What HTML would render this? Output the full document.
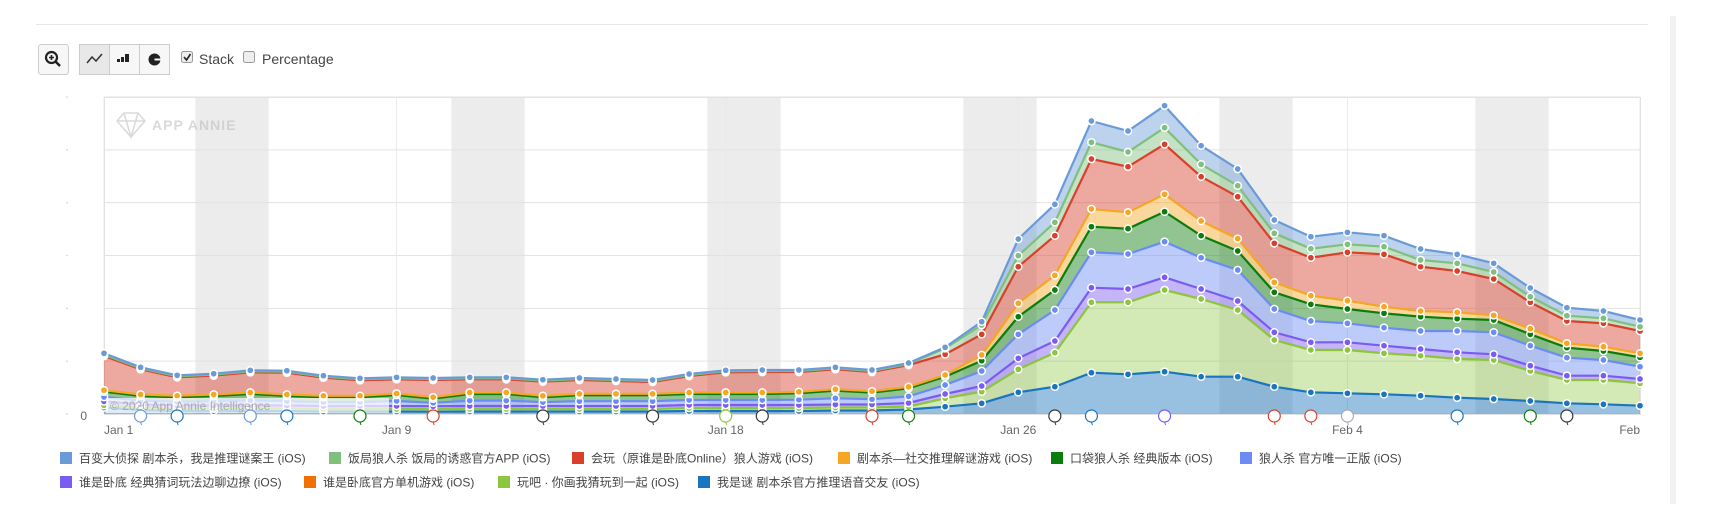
<!DOCTYPE html>
<html><head><meta charset="utf-8">
<style>
body{margin:0;background:#fff;width:1718px;height:528px;overflow:hidden;font-family:"Liberation Sans","Noto Sans CJK SC",sans-serif;}
svg{position:absolute;left:0;top:0}
</style></head>
<body>
<svg id="chart" width="1718" height="528"></svg>
<script>
const categories = ["Jan 1","Jan 2","Jan 3","Jan 4","Jan 5","Jan 6","Jan 7","Jan 8","Jan 9","Jan 10","Jan 11","Jan 12","Jan 13","Jan 14","Jan 15","Jan 16","Jan 17","Jan 18","Jan 19","Jan 20","Jan 21","Jan 22","Jan 23","Jan 24","Jan 25","Jan 26","Jan 27","Jan 28","Jan 29","Jan 30","Jan 31","Feb 1","Feb 2","Feb 3","Feb 4","Feb 5","Feb 6","Feb 7","Feb 8","Feb 9","Feb 10","Feb 11","Feb 12"];
const tickLabels = ["Jan 1","Jan 9","Jan 18","Jan 26","Feb 4","Feb"];
const tickIndex = [0,8,17,25,34,42];
const seriesNames = ["百变大侦探 剧本杀，我是推理谜案王 (iOS)","饭局狼人杀 饭局的诱惑官方APP (iOS)","会玩（原谁是卧底Online）狼人游戏 (iOS)","剧本杀—社交推理解谜游戏 (iOS)","口袋狼人杀 经典版本 (iOS)","狼人杀 官方唯一正版 (iOS)","谁是卧底 经典猜词玩法边聊边撩 (iOS)","谁是卧底官方单机游戏 (iOS)","玩吧 · 你画我猜玩到一起 (iOS)","我是谜 剧本杀官方推理语音交友 (iOS)"];
const baibian = [1.4,1,1,1,1,1,1,1,1,1,1,1,1,1,1,1,1,1,1,1,1,1,1,1,3.3,16.7,18,21.3,21,22,18.6,16.7,13.3,12,12,11,11,9,8.7,8.7,8,7.3,6.7];
const fanju = [1.3,1,1,1,1,1,1,1,1,1,1,1,1,1,1,1,1,1,1,1,1,1,1,6,9.3,11,13.4,16.7,14.7,16.6,12.4,11,10,9,8,7.6,6.7,7.7,7,5.6,5.3,5,4.3];
const huiwan = [34.2,25.2,18.5,18.8,20.2,21.8,18.1,15.5,14.2,17.2,13.2,13.2,14.1,13.8,12.8,11.8,16.5,20.2,20.5,19.8,19.9,19.2,21.8,20.7,20.7,36.6,39.6,50,45.6,50,44.3,42,39,38,48.4,52.4,44.3,41.3,36.3,26.4,22.3,23.4,22.3];
const juben = [1.5,1.5,1.5,1.5,1.5,1.5,1.5,1.5,1.5,1.5,1.5,1.5,1.5,1.5,1.5,1.5,1.5,1.5,1.5,1.5,1.5,1.5,1.5,1.7,5.7,13.4,14.7,17.7,16.4,17.4,14.7,12.3,10,8.6,8.3,6.6,5.7,6.4,4.7,5.6,4.4,4.3,4];
const koudai = [5.3,4.5,4.5,5.2,6.3,5.2,4.8,4.8,6,4.1,6.6,6.6,4.8,5.9,5.9,5.9,6,6,6,6.4,7.6,6.5,8.1,8.3,10.3,17.6,20,25.6,25.3,30,22,19,16.7,16.7,14.3,14.4,14.3,12.3,12.3,11.4,10,9,9.4];
const langren = [4.4,4,3.7,4.3,5.2,4.3,3.9,3.9,5,3.4,5.4,5.4,3.9,4.8,4.8,4.8,5,5,5,5.3,6.2,5.3,6.6,9,15,24,31,35.4,35,35.6,31.3,31,23.3,21.3,19,18,18,21.3,22,20,18,15.7,12.3];
const woudiClassic = [3.5,2.7,2.7,2.7,2.7,2.7,2.7,2.7,2.7,2.7,2.7,2.7,2.7,2.7,2.7,2.7,2.7,2.7,2.7,2.7,2.7,2.7,3.2,3.7,5.1,10.4,11.1,14,12.7,12.1,9.4,8.4,7.1,7.1,7.1,7,6.1,6.1,5.1,4.7,3.7,3.7,3.7];
const woudiOfficial = [0.3,0.3,0.3,0.3,0.3,0.3,0.3,0.3,0.3,0.3,0.3,0.3,0.3,0.3,0.3,0.3,0.3,0.3,0.3,0.3,0.3,0.3,0.3,0.6,0.6,0.6,0.6,0.6,0.6,0.6,0.6,0.6,0.6,0.6,0.6,0.6,0.6,0.6,0.6,0.6,0.6,0.6,0.6];
const wanba = [2.3,2.5,2.5,2.5,2.5,2.5,2.5,2.5,2.5,2.5,2.5,2.5,2.5,2.5,2.5,2.5,3,3,3,3,3,3,3,8.4,11.6,23,34,70.4,72,81.7,77.7,66.7,46.7,42.3,43.3,41,40,38.7,39,30,23.3,24.3,22.4];
const woshimi = [6.5,4,3,3,3,3,2.5,2.5,2.5,2.3,2.5,2.5,2.5,2.5,2.5,2.5,3,3,3,3,3.5,3.5,4.5,7.3,10.7,21.7,27.3,41.3,39.7,42.3,37.3,37.3,27.3,21.7,20.7,19.7,18.3,16.3,15,13,10.7,9.7,8.3];
const annotationDays = [1,2,4,5,7,9,12,15,17,18,21,22,26,27,29,32,33,34,37,39,40];
const annotationColors = ["#6a9bd8","#1a75bc","#6a9bd8","#1a75bc","#0a7d0a","#d8402b","#333","#333","#8cc63f","#333","#d8402b","#0a7d0a","#333","#1a75bc","#7b5cf0","#d8402b","#d8402b","#aab","#1a75bc","#0a7d0a","#333"];
const weekendStarts = [3,10,17,24,31,38];

const colors = ["#6a9bd8","#7fbf7f","#d8402b","#f5a623","#0a7d0a","#6b8cf5","#7b5cf0","#f07000","#8cc63f","#1a75bc"];
const stackBottomUp = [woshimi,wanba,woudiOfficial,woudiClassic,langren,koudai,juben,huiwan,fanju,baibian];
const colorBottomUp = colors.slice().reverse();
const namesBottomUp = ["woshimi","wanba","woudi-official","woudi-classic","langren","koudai","juben","huiwan","fanju","baibian"];

const NS="http://www.w3.org/2000/svg";
const svg=document.getElementById('chart');
const PL=104,PR=1640,PT=97,PB=414,YMAX=317;
const N=categories.length;
function x(i){return PL+i*(PR-PL)/(N-1);}
function y(v){return PB-(v/YMAX)*(PB-PT);}
function mk(tag,attrs,parent){const e=document.createElementNS(NS,tag);for(const k in attrs)e.setAttribute(k,attrs[k]);(parent||svg).appendChild(e);return e;}

let e;
e=mk('line',{x1:36,y1:24.5,x2:1648,y2:24.5,stroke:'#e6e6e6','stroke-width':1});


e=mk('rect',{x:1670,y:16,width:6,height:488,fill:'#f1f1f1'});



const tb=mk('g',{});


e=mk('rect',{x:38.5,y:44.5,width:30,height:30,rx:3,fill:'#f7f7f7',stroke:'#ccc'},tb);


mk('circle',{cx:51.5,cy:57.5,r:5.5,fill:'none',stroke:'#222','stroke-width':2.2},tb);
mk('line',{x1:55.5,y1:61.5,x2:60,y2:66,stroke:'#222','stroke-width':2.6},tb);
mk('path',{d:'M49 57.5h5M51.5 55v5',stroke:'#222','stroke-width':1.6},tb);
e=mk('rect',{x:79.5,y:44.5,width:30,height:30,fill:'#e8e8e8',stroke:'#ccc'},tb);


mk('path',{d:'M87 63l5-6 4 4 6-7',fill:'none',stroke:'#333','stroke-width':1.5},tb);
e=mk('rect',{x:109.5,y:44.5,width:30,height:30,fill:'#f7f7f7',stroke:'#ccc'},tb);


mk('path',{d:'M117 62h3v-3h-3zM121 62h3v-5h-3zM125 62h4v-8h-4z',fill:'#222'},tb);
e=mk('rect',{x:139.5,y:44.5,width:30,height:30,rx:0,fill:'#f7f7f7',stroke:'#ccc'},tb);


mk('circle',{cx:154.5,cy:59.5,r:6,fill:'#222'},tb);
mk('path',{d:'M154.5 59.5h7',stroke:'#f7f7f7','stroke-width':2},tb);
e=mk('rect',{x:181.5,y:51.5,width:11,height:11,rx:2,fill:'#eee',stroke:'#999'},tb);


mk('path',{d:'M184 57l2.5 3 4-6',fill:'none',stroke:'#222','stroke-width':1.6},tb);
e=mk('text',{x:199,y:64,'font-size':14,fill:'#444'},tb);e.textContent='Stack';


e=mk('rect',{x:243.5,y:51.5,width:11,height:11,rx:2,fill:'#eee',stroke:'#999'},tb);


e=mk('text',{x:262,y:64,'font-size':14,fill:'#444'},tb);e.textContent='Percentage';



const plot=mk('g',{});


const dx=(PR-PL)/(N-1);
weekendStarts.forEach(d=>{
  const x0=Math.max(PL,x(d)-dx/2), x1=Math.min(PR,x(d+1)+dx/2);
  const r=mk('rect',{x:x0,y:PT,width:x1-x0,height:PB-PT,fill:'#ececec'},plot);
  
  
});
for(let k=0;k<=6;k++){
  const gy=y(k*YMAX/6);
  const g=mk('line',{x1:PL,x2:PR,y1:gy,y2:gy,stroke:'#e3e3e3','stroke-width':1},plot);
  
  
  const d=mk('circle',{cx:67,cy:gy,r:0.8,fill:'#ccc'},plot);
  
  
}
tickIndex.forEach(i=>{
  const g=mk('line',{x1:x(i),x2:x(i),y1:PT,y2:PB,stroke:'#e8e8e8','stroke-width':1},plot);
  
  
});
e=mk('rect',{x:PL+0.5,y:PT+0.5,width:PR-PL,height:PB-PT,fill:'none',stroke:'#e2e2e2'},plot);



const wm=mk('g',{opacity:0.55});


mk('path',{d:'M117 121l7-8h14l7 8-14 16z M117 121h28 M124 113l7 24 7-24',fill:'none',stroke:'#bbb','stroke-width':1.5},wm);
e=mk('text',{x:152,y:130,'font-size':14,'font-weight':'bold',fill:'#bbb','letter-spacing':1},wm);e.textContent='APP ANNIE';

const cum=[];let prev=new Array(N).fill(0);
stackBottomUp.forEach(s=>{const c=s.map((v,i)=>prev[i]+v);cum.push({lo:prev,hi:c});prev=c;});
const areas=mk('g',{});


cum.forEach((c,si)=>{
  let d='M'+c.hi.map((v,i)=>x(i)+','+y(v)).join('L');
  for(let i=N-1;i>=0;i--)d+='L'+x(i)+','+y(c.lo[i]);
  d+='Z';
  const p=mk('path',{d:d,fill:colorBottomUp[si],'fill-opacity':si==1?0.38:0.45,stroke:'none'},areas);
  
  
});
const lineOrder=[0,2,1,3,4,5,6,7,8,9];
lineOrder.forEach(si=>{
  const c=cum[si];
  const isSmall=si==2;
  const l=mk('polyline',{points:c.hi.map((v,i)=>x(i)+','+y(v)).join(' '),fill:'none',stroke:isSmall?'#b8a040':colorBottomUp[si],'stroke-width':isSmall?1.2:2.2,'stroke-opacity':isSmall?0.6:1},areas);
  
  
});
cum.forEach((c,si)=>{
  if(si==2) return;
  c.hi.forEach((v,i)=>{
    const pt=mk('circle',{cx:x(i),cy:y(v),r:3.6,fill:colorBottomUp[si],stroke:'#fff','stroke-width':1.5},areas);
    
    
  });
});

e=mk('rect',{x:106,y:398,width:283,height:15,fill:'#fff','fill-opacity':0.7});


e=mk('text',{x:110,y:410,'font-size':12,fill:'#aaa'});e.textContent='© 2020 App Annie Intelligence';



annotationDays.forEach((d,k)=>{
  const a=mk('g',{});
  
  
  mk('circle',{cx:x(d),cy:416,r:6,fill:'#fff',stroke:annotationColors[k],'stroke-width':1.2},a);
  mk('path',{d:`M${x(d)} 422l1 3`,stroke:annotationColors[k],'stroke-width':1},a);
});

e=mk('text',{x:87,y:420,'font-size':12,fill:'#666','text-anchor':'end'});e.textContent='0';


tickLabels.forEach((t,k)=>{
  const i=tickIndex[k];
  const tx=mk('text',{x:x(i),y:434,'font-size':12,fill:'#666','text-anchor':k==0?'start':(k==tickLabels.length-1?'end':'middle')});
  tx.textContent=t;
  
  
});

const legX=[60,329,572,838,1051,1240,60,304,498,698];
const legY=[458,458,458,458,458,458,482,482,482,482];
seriesNames.forEach((n,k)=>{
  const g=mk('g',{});
  
  
  mk('rect',{x:legX[k],y:legY[k]-6,width:12,height:12,fill:colors[k]},g);
  const t=mk('text',{x:legX[k]+19,y:legY[k]+4.5,'font-size':12,fill:'#444'},g);
  t.textContent=n;
});
</script>
</body></html>
